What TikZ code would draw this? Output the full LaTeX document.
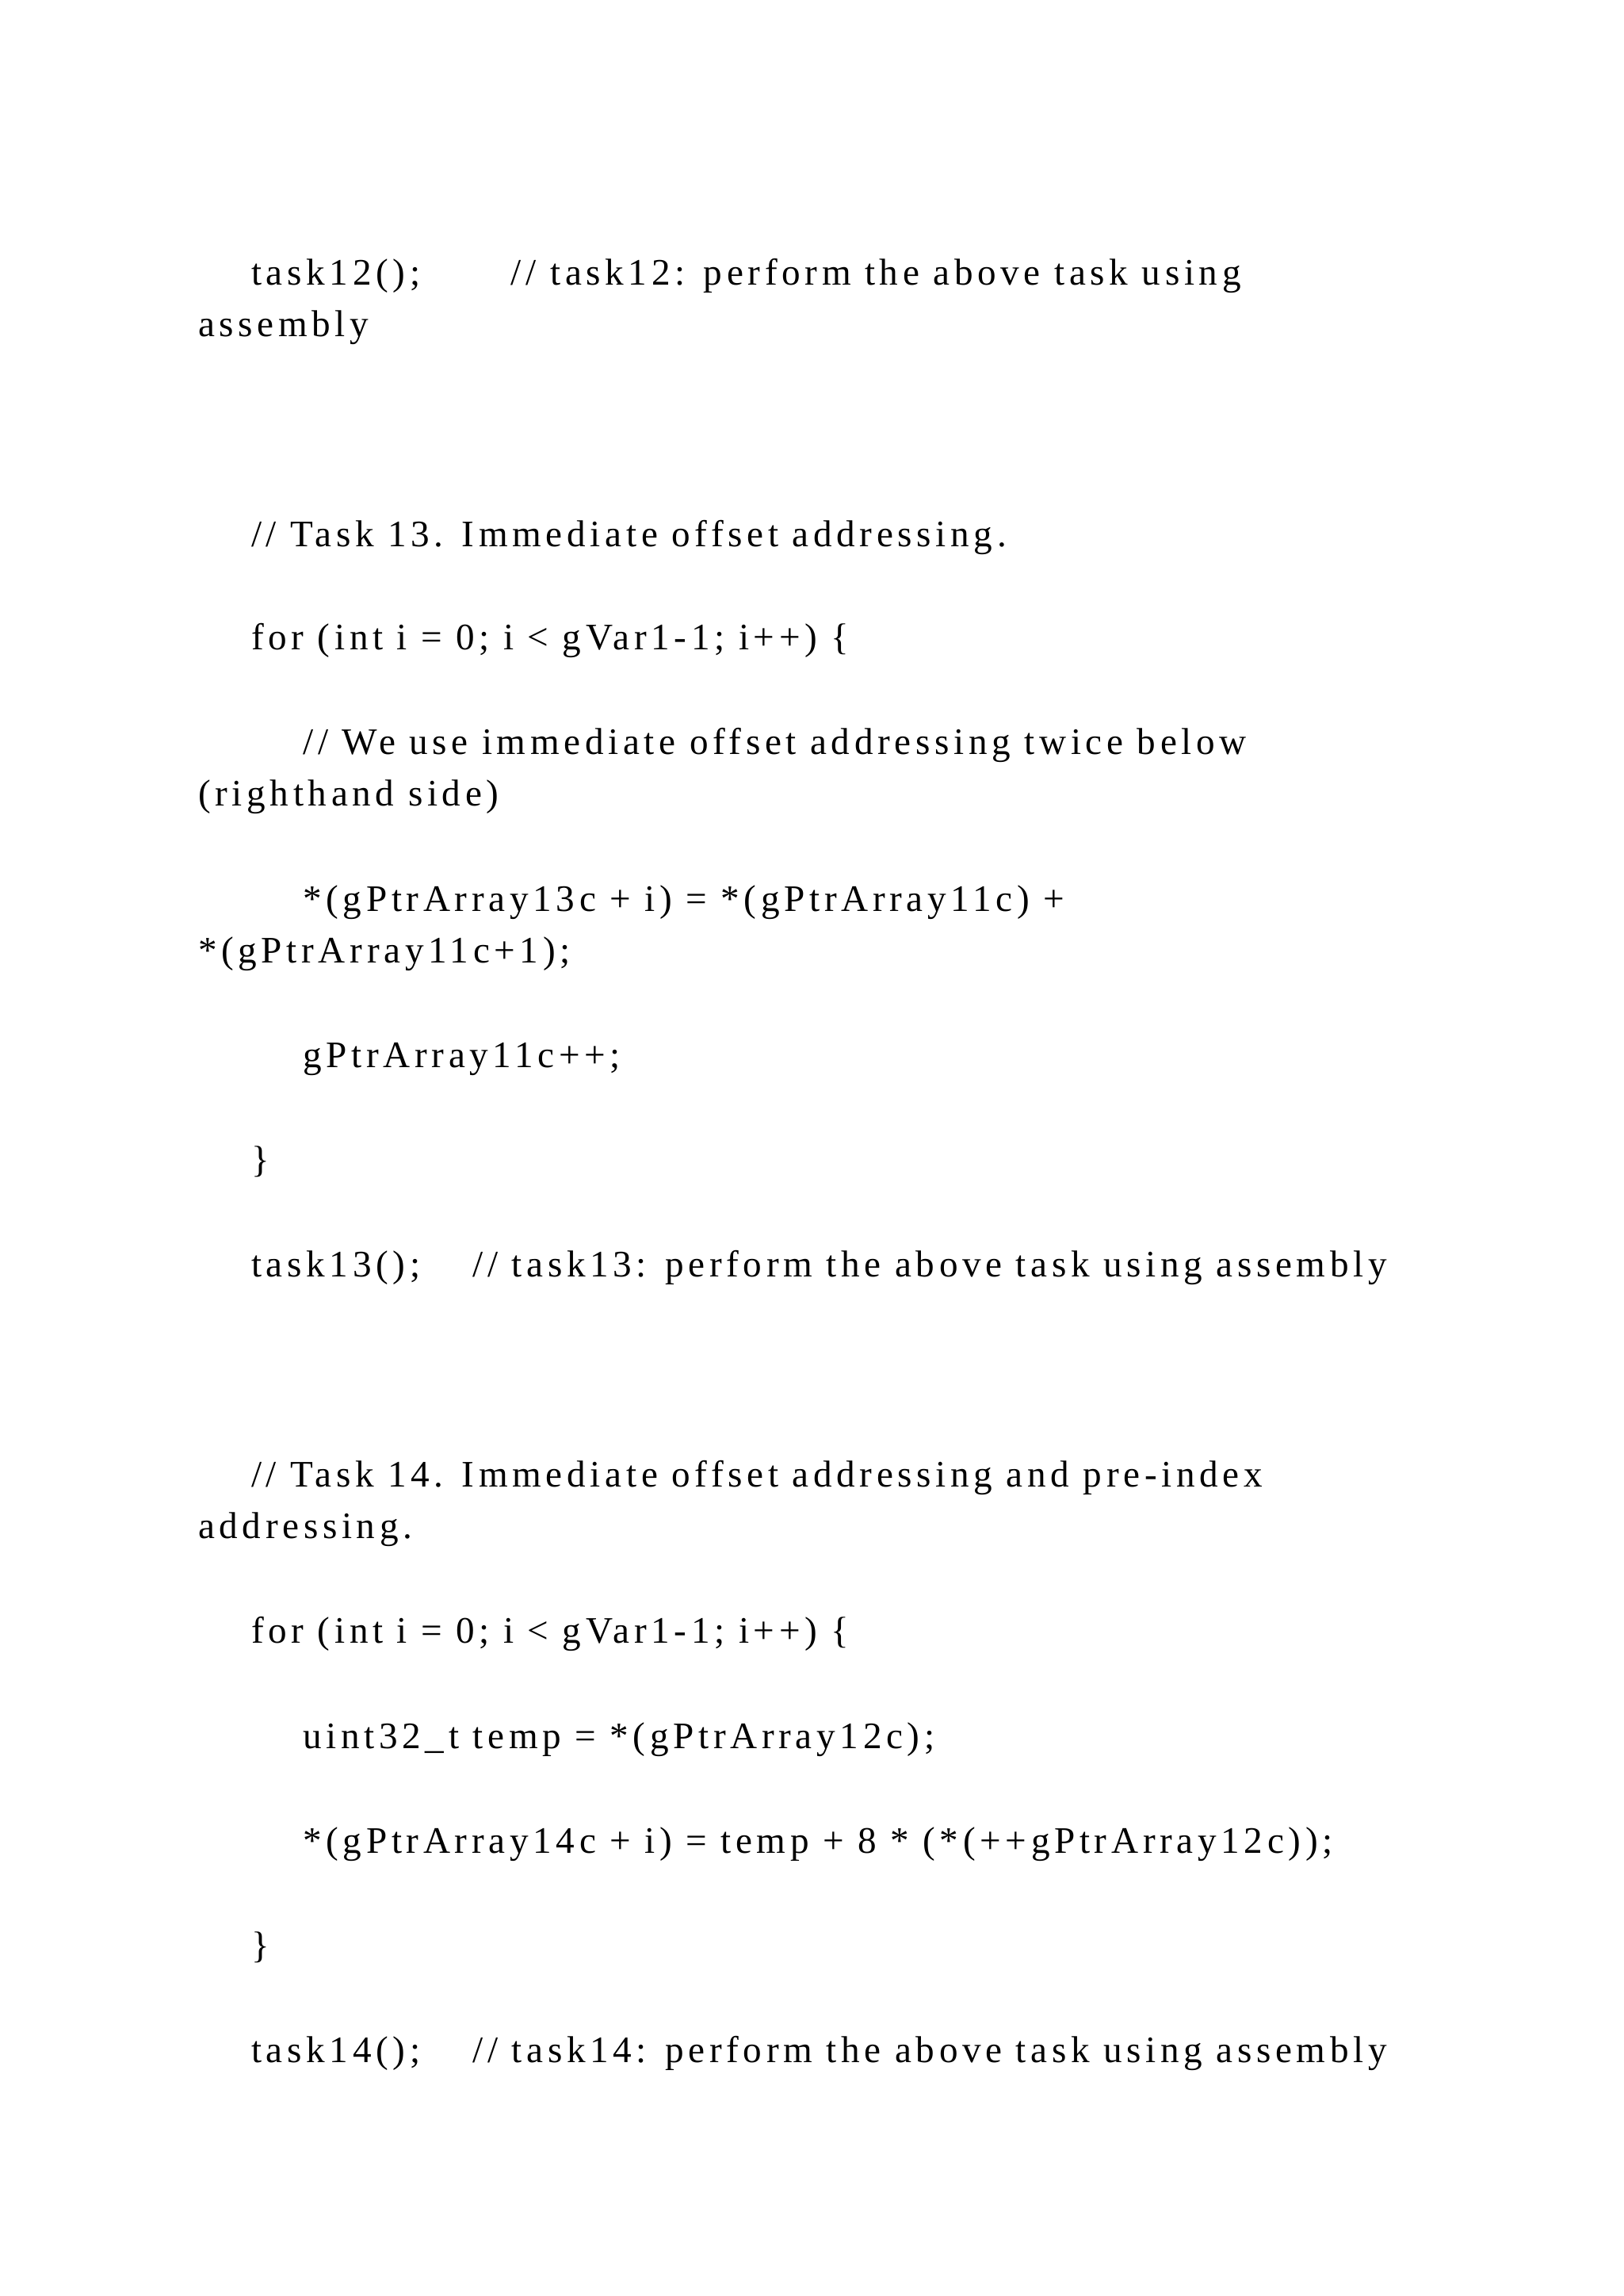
\documentclass[tikz,border=0pt]{standalone}
\usepackage{fontspec}
\setmainfont[LetterSpace=12]{Liberation Serif}
\begin{document}
\begin{tikzpicture}[x=0.75pt,y=-0.75pt,
  t/.style={anchor=base west,inner sep=0pt,font=\fontsize{19}{22}\selectfont}]
\useasboundingbox[fill=white] (0,0) rectangle (1100,1555);
\node[t] (a1) at (170,193) {task12();};
\node[t] (a2) at (346,193) {// task12: perform the above task using};
\node[t] (a3) at (134,228) {assembly};
\node[t] (b1) at (170,370) {// Task 13. Immediate offset addressing.};
\node[t] (b2) at (170,440) {for (int i = 0; i < gVar1-1; i++) \{};
\node[t] (b3) at (205,511) {// We use immediate offset addressing twice below};
\node[t] (b4) at (134,546) {(righthand side)};
\node[t] (b5) at (205,617) {*(gPtrArray13c + i) = *(gPtrArray11c) +};
\node[t] (b6) at (134,652) {*(gPtrArray11c+1);};
\node[t] (b7) at (205,723) {gPtrArray11c++;};
\node[t] (b8) at (170,794) {\}};
\node[t] (b9) at (170,865) {task13();};
\node[t] (b10) at (320,865) {// task13: perform the above task using assembly};
\node[t] (c1) at (170,1007) {// Task 14. Immediate offset addressing and pre-index};
\node[t] (c2) at (134,1042) {addressing.};
\node[t] (c3) at (170,1113) {for (int i = 0; i < gVar1-1; i++) \{};
\node[t] (c4) at (205,1184) {uint32\_t temp = *(gPtrArray12c);};
\node[t] (c5) at (205,1255) {*(gPtrArray14c + i) = temp + 8 * (*(++gPtrArray12c));};
\node[t] (c6) at (170,1326) {\}};
\node[t] (c7) at (170,1397) {task14();};
\node[t] (c8) at (320,1397) {// task14: perform the above task using assembly};
\end{tikzpicture}
\end{document}
